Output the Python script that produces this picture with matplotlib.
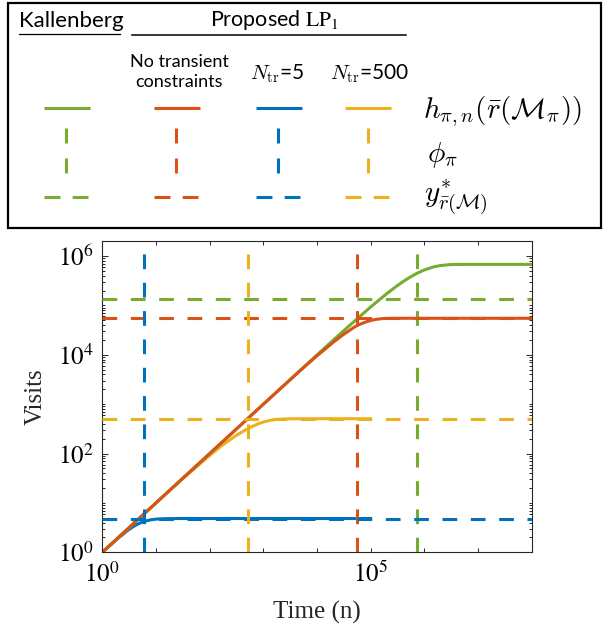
import numpy as np
import matplotlib
matplotlib.use("Agg")
import matplotlib.pyplot as plt
from matplotlib.patches import Rectangle
from matplotlib.lines import Line2D
from matplotlib.ticker import FixedLocator, LogLocator, NullFormatter

# ── Data ─────────────────────────────────────────────────────────────
blue_n = [1, 2, 3, 4, 5, 6, 7, 8, 10, 12, 15, 20, 30, 100, 1e5]
blue_y = [1, 1.95, 2.8, 3.45, 3.9, 4.2, 4.4, 4.55, 4.7, 4.75, 4.8, 4.82, 4.83, 4.83, 4.83]

yellow_n = [1, 10, 30, 100, 150, 200, 300, 400, 500, 600, 800, 1000, 1300, 1600, 2000,
            3000, 5000, 1e4, 1e5]
yellow_y = [1, 10, 29.5, 91, 131, 166, 226, 273, 314, 347, 399, 435, 467, 485, 497,
            505, 508, 508, 508]

red_n = [1, 1e3, 5e3, 1e4, 2e4, 3e4, 4e4, 5e4, 6e4, 8e4, 1e5, 1.3e5, 1.6e5, 2e5, 3e5, 1e8]
red_y = [1, 995, 4900, 9500, 17800, 25000, 31000, 36500, 40500, 46000, 49500, 52500,
         54000, 54700, 55000, 55000]

green_n = [1, 1e4, 3e4, 1e5, 2e5, 3e5, 4e5, 5e5, 7e5, 1e6, 1.5e6, 2e6, 3e6, 5e6, 1e8]
green_y = [1, 9930, 29350, 92800, 173000, 242500, 302400, 354000, 437000, 523500,
           605000, 644000, 671800, 680000, 680000]

# phi_pi (vertical) and y* (horizontal) reference levels
phi = {"green": 7.5e5, "red": 5.7e4, "blue": 6.1, "yellow": 520}
ystar = {"green": 1.38e5, "red": 5.5e4, "blue": 4.8, "yellow": 500}

C = {"blue": "#0072BD", "red": "#D95319", "yellow": "#EDB120", "green": "#77AC30"}

plt.rcParams["font.family"] = "serif"
plt.rcParams["font.serif"] = ["Liberation Serif", "DejaVu Serif"]
plt.rcParams["mathtext.fontset"] = "stix"
plt.rcParams["lines.scale_dashes"] = False

LW = 2.2
DASH = (0, (10.6, 9.8))

fig = plt.figure(figsize=(6.05, 6.29), dpi=100)

# ── Legend box (pixel coordinates overlay) ───────────────────────────
lax = fig.add_axes([0, 0, 1, 1])
lax.set_xlim(0, 605)
lax.set_ylim(629, 0)
lax.axis("off")

lax.add_patch(Rectangle((8, 3), 593, 225, fill=False, ec="black", lw=1.6))

sans = "Lato"
lax.text(19, 21, "Kallenberg", family=sans, fontsize=16, va="center", ha="left")
lax.add_line(Line2D([19, 120], [34, 34], color="black", lw=0.9))
lax.text(274, 20, r"Proposed $\mathrm{LP}_1$", family=sans, fontsize=15.5,
         va="center", ha="center", math_fontfamily="stix")
lax.add_line(Line2D([132, 406], [35, 35], color="black", lw=1.1))
lax.text(179, 72, "No transient\nconstraints", family=sans, fontsize=13,
         va="center", ha="center", linespacing=1.25)
lax.text(277, 74, r"$N_{\mathrm{tr}}$=5", family=sans, fontsize=15,
         va="center", ha="center", math_fontfamily="cm")
lax.text(370, 74, r"$N_{\mathrm{tr}}$=500", family=sans, fontsize=15,
         va="center", ha="center", math_fontfamily="cm")

keys = [("green", 44, 66), ("red", 154, 176), ("blue", 256, 278), ("yellow", 345, 368)]
for name, x0, xc in keys:
    lax.add_line(Line2D([x0, x0 + 46], [108, 108], color=C[name], lw=LW,
                        solid_capstyle="butt"))
    lax.add_line(Line2D([xc, xc], [128, 174], color=C[name], lw=LW,
                        linestyle=(0, (10.8, 10.8))))
    lax.add_line(Line2D([x0, x0 + 44], [197, 197], color=C[name], lw=LW,
                        linestyle=(0, (11.5, 8.8))))

lax.text(423, 112, r"$h_{\pi,n}\left(\bar{r}(\mathcal{M}_{\pi})\right)$", fontsize=21,
         va="center", ha="left", math_fontfamily="cm")
lax.text(427, 155, r"$\phi_{\pi}$", fontsize=21, va="center", ha="left",
         math_fontfamily="cm")
lax.text(424, 198, r"$y^{*}_{\bar{r}(\mathcal{M})}$", fontsize=21, va="center",
         ha="left", math_fontfamily="cm")

# ── Main plot ────────────────────────────────────────────────────────
ax = fig.add_axes([102.3 / 605, 1 - 552.3 / 629, 429.2 / 605, 311.6 / 629])
ax.set_xscale("log")
ax.set_yscale("log")

ax.plot(blue_n, blue_y, color=C["blue"], lw=LW, zorder=2)
ax.plot(yellow_n, yellow_y, color=C["yellow"], lw=LW, zorder=2)
ax.plot(green_n, green_y, color=C["green"], lw=LW, zorder=2)
ax.plot(red_n, red_y, color=C["red"], lw=LW, zorder=2)

for name in ["green", "red", "blue", "yellow"]:
    ax.axvline(phi[name], color=C[name], lw=LW, linestyle=DASH, zorder=3)
    ax.axhline(ystar[name], color=C[name], lw=LW, linestyle=DASH, zorder=3)

ax.set_xlim(1, 1e8)
ax.set_ylim(1, 2.05e6)

ax.xaxis.set_major_locator(FixedLocator([1, 1e5]))
ax.xaxis.set_minor_locator(FixedLocator([1e1, 1e2, 1e3, 1e4, 1e6, 1e7]))
ax.set_xticklabels([r"$10^{0}$", r"$10^{5}$"])
ax.xaxis.set_minor_formatter(NullFormatter())

ax.yaxis.set_major_locator(FixedLocator([1, 1e2, 1e4, 1e6]))
ax.yaxis.set_minor_locator(LogLocator(base=10, subs=np.arange(1, 10), numticks=30))
ax.set_yticklabels([r"$10^{0}$", r"$10^{2}$", r"$10^{4}$", r"$10^{6}$"])
ax.yaxis.set_minor_formatter(NullFormatter())

ax.tick_params(which="both", direction="in", top=True, right=True,
               labelsize=18, color="#262626", width=0.7)
ax.tick_params(axis="x", which="both", length=3, pad=7)
ax.tick_params(axis="y", which="major", length=4, pad=6)
ax.tick_params(axis="y", which="minor", length=2.5)
for sp in ax.spines.values():
    sp.set_linewidth(0.8)
    sp.set_color("#262626")

ax.set_xlabel("Time (n)", fontsize=18, color="#262626")
ax.set_ylabel("Visits", fontsize=18, color="#262626")
ax.xaxis.set_label_coords(0.5, -0.155)
ax.yaxis.set_label_coords(-0.13, 0.5)

fig.savefig("out.png", dpi=100, facecolor="white")
